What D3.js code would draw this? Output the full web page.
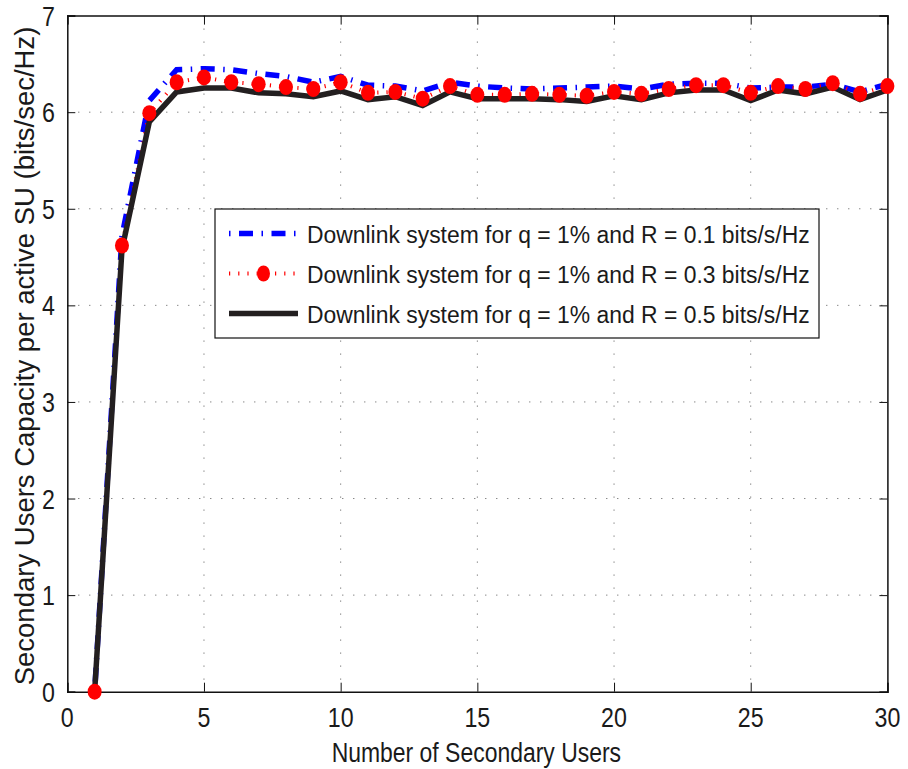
<!DOCTYPE html>
<html>
<head>
<meta charset="utf-8">
<script src="https://cdn.jsdelivr.net/npm/d3@7"></script>
<style>
  html, body { margin: 0; padding: 0; background: #fff; }
  svg { display: block; }
  text { font-family: "Liberation Sans", Arial, Helvetica, sans-serif; fill: #1a1a1a; }
</style>
</head>
<body>
<svg id="chart" width="908" height="769"></svg>
<script>
// Number of secondary users (x axis)
const users = d3.range(1, 31);

// Capacity per active SU (bits/sec/Hz) for each rate threshold R
const capR01 = [0, 4.72, 6.12, 6.44, 6.45, 6.44, 6.40, 6.37, 6.31, 6.37,
                6.28, 6.27, 6.22, 6.31, 6.27, 6.25, 6.24, 6.25, 6.26, 6.27,
                6.24, 6.29, 6.30, 6.30, 6.25, 6.26, 6.26, 6.29, 6.21, 6.29];
const capR03 = [0, 4.62, 5.99, 6.31, 6.36, 6.31, 6.29, 6.26, 6.24, 6.31,
                6.20, 6.21, 6.14, 6.27, 6.18, 6.18, 6.19, 6.18, 6.17, 6.21,
                6.19, 6.24, 6.28, 6.28, 6.20, 6.27, 6.24, 6.30, 6.19, 6.27];
const capR05 = [0, 4.58, 5.90, 6.21, 6.25, 6.25, 6.20, 6.19, 6.16, 6.22,
                6.13, 6.16, 6.07, 6.21, 6.14, 6.14, 6.14, 6.13, 6.11, 6.17,
                6.13, 6.20, 6.23, 6.23, 6.12, 6.23, 6.19, 6.26, 6.13, 6.23];

const seriesLabels = [
  "Downlink system for q = 1% and R = 0.1 bits/s/Hz",
  "Downlink system for q = 1% and R = 0.3 bits/s/Hz",
  "Downlink system for q = 1% and R = 0.5 bits/s/Hz"
];

const xTicks = [0, 5, 10, 15, 20, 25, 30];
const yTicks = [0, 1, 2, 3, 4, 5, 6, 7];
const xTitle = "Number of Secondary Users";
const yTitle = "Secondary Users Capacity per active SU (bits/sec/Hz)";

const svg = d3.select("#chart");
const plotLeft = 67.3, plotRight = 887.4, plotTop = 15.6, plotBottom = 691.7;

const x = d3.scaleLinear().domain([0, 30]).range([plotLeft, plotRight]);
const y = d3.scaleLinear().domain([0, 7]).range([plotBottom, plotTop]);

// Text drawn slightly narrower than its height, like the exported figure
function label(g, tx, ty, str, size, sx, anchor, rotate) {
  return g.append("text")
    .attr("transform", `translate(${tx},${ty})` + (rotate ? ` rotate(${rotate})` : "") + ` scale(${sx},1)`)
    .attr("font-size", size)
    .attr("text-anchor", anchor)
    .text(str);
}

// Dotted grid
const grid = svg.append("g");
grid.selectAll("line.gx").data(xTicks.slice(1, -1)).join("line")
  .attr("x1", d => x(d)).attr("x2", d => x(d))
  .attr("y1", plotTop).attr("y2", plotBottom)
  .attr("stroke", "#555").attr("stroke-width", 1)
  .attr("stroke-dasharray", "1,12");
grid.selectAll("line.gy").data(yTicks.slice(1, -1)).join("line")
  .attr("x1", plotLeft).attr("x2", plotRight)
  .attr("y1", d => y(d)).attr("y2", d => y(d))
  .attr("stroke", "#555").attr("stroke-width", 1)
  .attr("stroke-dasharray", "1,10");

// Axes with inward ticks, boxed on all four sides
const axB = d3.axisBottom(x).tickValues(xTicks).tickSize(-9).tickFormat("");
const axT = d3.axisTop(x).tickValues(xTicks).tickSize(-9).tickFormat("");
const axL = d3.axisLeft(y).tickValues(yTicks).tickSize(-8).tickFormat("");
const axR = d3.axisRight(y).tickValues(yTicks).tickSize(-8).tickFormat("");
[[axB, `translate(0,${plotBottom})`], [axT, `translate(0,${plotTop})`],
 [axL, `translate(${plotLeft},0)`], [axR, `translate(${plotRight},0)`]].forEach(([ax, tr]) => {
  const g = svg.append("g").attr("transform", tr).call(ax);
  g.select(".domain").attr("stroke", "#111").attr("stroke-width", 1.5);
  g.selectAll(".tick line").attr("stroke", "#111").attr("stroke-width", 1);
});

// Tick labels
const lab = svg.append("g");
xTicks.forEach(v => label(lab, x(v), 727, String(v), 27, 0.86, "middle"));
yTicks.forEach(v => label(lab, 55, y(v) + 10, String(v), 27, 0.86, "end"));

// Axis titles
label(lab, (plotLeft + plotRight) / 2 - 1, 762, xTitle, 27, 0.85, "middle");
label(lab, 34, 356, yTitle, 27.5, 1.0, "middle", -90);

// Data lines
const line = d3.line().x((d, i) => x(users[i])).y(d => y(d));

svg.append("path").datum(capR01).attr("d", line)
  .attr("fill", "none").attr("stroke", "#0000ff").attr("stroke-width", 5.5)
  .attr("stroke-dasharray", "1.5,8.5,14,8.5").attr("stroke-linejoin", "miter");

svg.append("path").datum(capR03).attr("d", line)
  .attr("fill", "none").attr("stroke", "#ff0000").attr("stroke-width", 4)
  .attr("stroke-dasharray", "1.2,8");

svg.append("path").datum(capR05).attr("d", line)
  .attr("fill", "none").attr("stroke", "#231f20").attr("stroke-width", 5.5)
  .attr("stroke-linejoin", "miter");

svg.append("g").selectAll("ellipse").data(capR03).join("ellipse")
  .attr("cx", (d, i) => x(users[i])).attr("cy", d => y(d))
  .attr("rx", 7).attr("ry", 8).attr("fill", "#ff0000");

// Legend
const lg = svg.append("g");
lg.append("rect").attr("x", 215).attr("y", 209).attr("width", 604).attr("height", 129)
  .attr("fill", "#fff").attr("stroke", "#111").attr("stroke-width", 1.2);
const rows = [233.5, 273.5, 313.5];
const sx0 = 229, sx1 = 298;
lg.append("line").attr("x1", sx0).attr("x2", sx1).attr("y1", rows[0]).attr("y2", rows[0])
  .attr("stroke", "#0000ff").attr("stroke-width", 5.5).attr("stroke-dasharray", "1.5,8.5,14,8.5");
lg.append("line").attr("x1", sx0).attr("x2", sx1).attr("y1", rows[1]).attr("y2", rows[1])
  .attr("stroke", "#ff0000").attr("stroke-width", 4).attr("stroke-dasharray", "1.2,8");
lg.append("ellipse").attr("cx", (sx0 + sx1) / 2).attr("cy", rows[1]).attr("rx", 6.5).attr("ry", 8)
  .attr("fill", "#ff0000");
lg.append("line").attr("x1", sx0).attr("x2", sx1).attr("y1", rows[2]).attr("y2", rows[2])
  .attr("stroke", "#231f20").attr("stroke-width", 5.5);
seriesLabels.forEach((s, i) => label(lg, 307, rows[i] + 9, s, 24.5, 0.935, "start"));
</script>
</body>
</html>
